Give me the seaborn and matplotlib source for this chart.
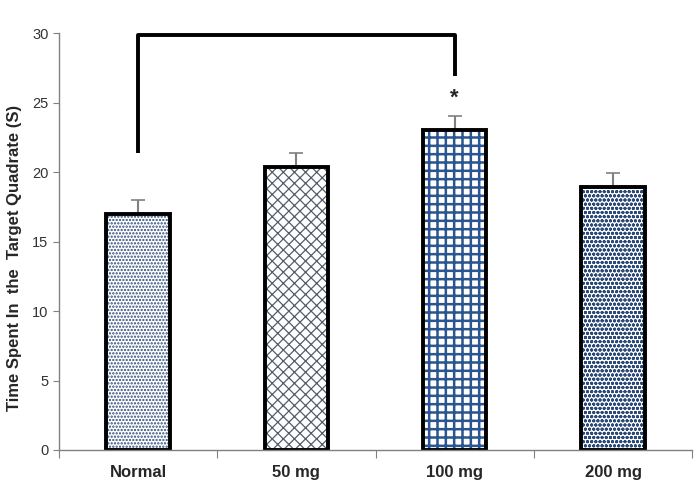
import numpy as np
import pandas as pd
import matplotlib
matplotlib.use("Agg")
import matplotlib.pyplot as plt
import seaborn as sns

# values
groups = ["Normal", "50 mg", "100 mg", "200 mg"]
means = [17.0, 20.35, 23.0, 18.95]
errors = [1.0, 1.05, 1.0, 1.0]
hatches = [".....", "xxx", "++", "oooo"]
hatch_colors = ["#2b4a78", "#555d6b", "#2b5590", "#2b4a78"]
hatch_widths = [1.1, 0.9, 1.8, 1.0]

df = pd.DataFrame({"group": groups, "time": means})

sns.set_style("white")
plt.rcParams["font.family"] = ["Liberation Sans", "DejaVu Sans"]
plt.rcParams["hatch.linewidth"] = 1.0

fig = plt.figure(figsize=(7, 4.87), dpi=100)
ax = fig.add_axes([0.084, 0.076, 0.905, 0.856])

# upward-only error bars, drawn beneath the bars
x = np.arange(len(groups))
ax.errorbar(x, means, yerr=[np.zeros(len(errors)), errors], fmt="none",
            ecolor="#808080", elinewidth=1.5, capsize=5, capthick=1.2,
            zorder=0.5)

# hatched fill first (hatch takes the edge colour), then a black outline on top
sns.barplot(data=df, x="group", y="time", width=0.4, color="white",
            linewidth=0, ax=ax)
for patch, h, c, w in zip(ax.patches, hatches, hatch_colors, hatch_widths):
    patch.set_hatch(h)
    patch.set_edgecolor(c)
    patch.set_zorder(1)
    if hasattr(patch, "set_hatch_linewidth"):
        patch.set_hatch_linewidth(w)
    else:
        patch._hatch_linewidth = w
sns.barplot(data=df, x="group", y="time", width=0.4, fill=False,
            edgecolor="black", linewidth=2.8, ax=ax)
for patch in ax.patches[len(groups):]:
    patch.set_zorder(2)

# significance bracket between Normal and 100 mg
ax.plot([0, 0, 2, 2], [21.4, 29.9, 29.9, 26.9], color="black", lw=2.8,
        solid_capstyle="butt", clip_on=False)
ax.text(2, 25.3, "*", ha="center", va="center", fontsize=16, fontweight="bold")

ax.set_ylim(0, 30)
ax.set_xlim(-0.5, 3.5)
ax.set_yticks([0, 5, 10, 15, 20, 25, 30])
ax.tick_params(axis="y", left=True, length=4, color="#808080",
               labelsize=10.5, labelcolor="#333333")

# category boundary ticks on x, labels centred between them
ax.set_xticks(np.arange(-0.5, 4, 1))
ax.set_xticklabels([])
ax.set_xticks(x, minor=True)
ax.set_xticklabels(groups, minor=True, fontweight="bold", fontsize=12)
ax.tick_params(axis="x", which="major", bottom=True, length=6, color="#808080")
ax.tick_params(axis="x", which="minor", bottom=False, pad=9)

ax.set_xlabel("")
ax.set_ylabel("Time Spent In  the  Target Quadrate (S)", fontweight="bold",
              fontsize=12)
ax.yaxis.set_label_coords(-0.058, 0.46)

for side in ["top", "right"]:
    ax.spines[side].set_visible(False)
for side in ["left", "bottom"]:
    ax.spines[side].set_color("#808080")
    ax.spines[side].set_linewidth(1)

fig.savefig("out.png", dpi=100)
